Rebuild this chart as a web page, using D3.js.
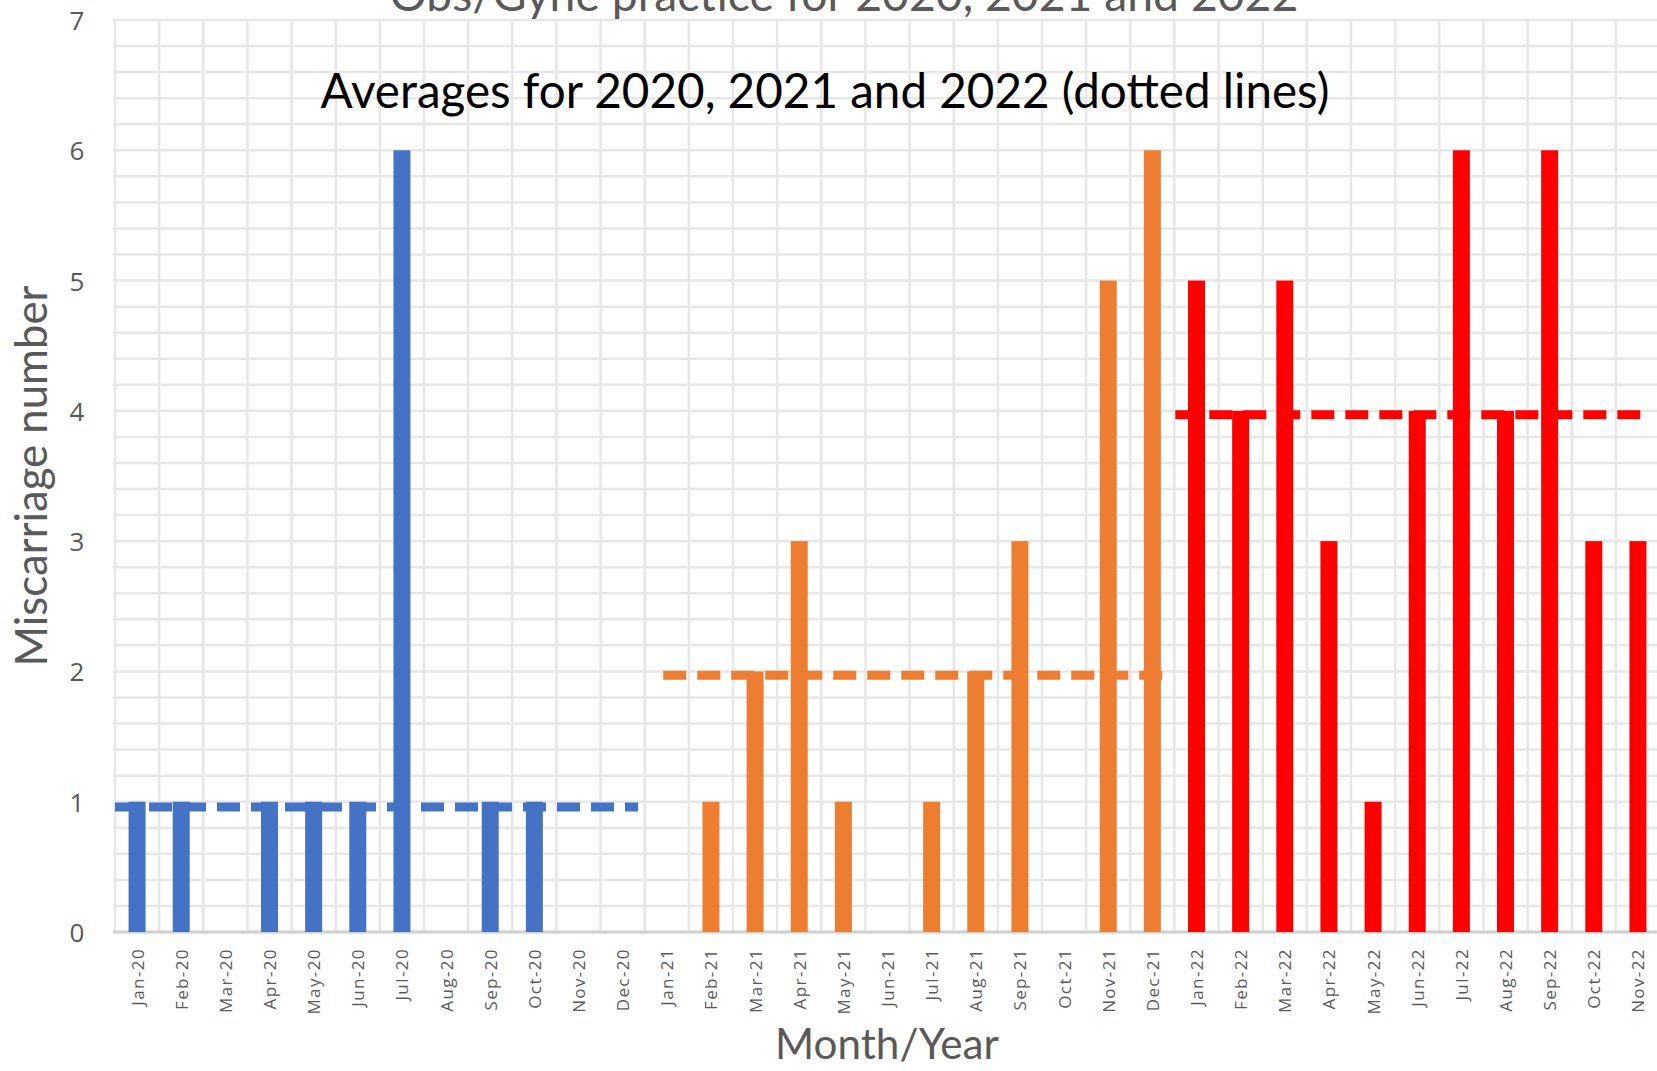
<!DOCTYPE html>
<html>
<head>
<meta charset="utf-8">
<script src="https://cdn.jsdelivr.net/npm/d3@7"></script>
<style>
  html, body { margin: 0; padding: 0; background: #ffffff; overflow: hidden; }
  svg { display: block; }
</style>
</head>
<body>
<svg id="chart" width="1657" height="1071"></svg>
<script>
// ---------- DATA ----------
const months = [
  "Jan-20","Feb-20","Mar-20","Apr-20","May-20","Jun-20","Jul-20","Aug-20","Sep-20","Oct-20","Nov-20","Dec-20",
  "Jan-21","Feb-21","Mar-21","Apr-21","May-21","Jun-21","Jul-21","Aug-21","Sep-21","Oct-21","Nov-21","Dec-21",
  "Jan-22","Feb-22","Mar-22","Apr-22","May-22","Jun-22","Jul-22","Aug-22","Sep-22","Oct-22","Nov-22"
];
const values2020 = [1, 1, 0, 1, 1, 1, 6, 0, 1, 1, 0, 0];
const values2021 = [0, 1, 2, 3, 1, 0, 1, 2, 3, 0, 5, 6];
const values2022 = [5, 4, 5, 3, 1, 4, 6, 4, 6, 3, 3];
const years = ["2020", "2021", "2022"];
const yearAverages = [0.96, 1.97, 3.97];
const averageFrom = ["Jan-20", "Jan-21", "Jan-22"];
const averageTo = ["Dec-20", "Dec-21", "Nov-22"];
const yTicks = [0, 1, 2, 3, 4, 5, 6, 7];
const titleText = "Obs/Gyne practice for 2020, 2021 and 2022";
const noteText = "Averages for 2020, 2021 and 2022 (dotted lines)";
const yTitle = "Miscarriage number";
const xTitle = "Month/Year";
const yearColors = ["#4472C4", "#ED7D31", "#FF0000"];

// ---------- BUILD ----------
const seriesValues = [values2020, values2021, values2022];
const rows = [];
let k = 0;
seriesValues.forEach((vals, yi) => {
  vals.forEach(v => { rows.push({ month: months[k], value: v, year: yi }); k++; });
});

const svg = d3.select("#chart");
const plotLeft = 115, plotRight = 1660, plotTop = 20, plotBottom = 932;

const x = d3.scaleBand().domain(months).range([plotLeft, plotRight])
  .paddingInner(0.615).paddingOuter(0.3075);
const y = d3.scaleLinear().domain([0, 7]).range([plotBottom, plotTop]);
const step = x.step();

// gridlines
const grid = svg.append("g");
const hLines = d3.range(0, 7.0001, 0.2);
grid.selectAll("line.h").data(hLines).enter().append("line")
  .attr("x1", plotLeft - 2).attr("x2", plotRight)
  .attr("y1", d => y(d)).attr("y2", d => y(d))
  .attr("stroke", "#e7e7e7").attr("stroke-width", 2.5);
const vBounds = months.map((m, i) => plotLeft + i * step);
vBounds.push(plotRight);
grid.selectAll("line.v").data(vBounds).enter().append("line")
  .attr("x1", d => d).attr("x2", d => d)
  .attr("y1", plotTop).attr("y2", plotBottom)
  .attr("stroke", "#e7e7e7").attr("stroke-width", 2.5);

// baseline
svg.append("line").attr("x1", plotLeft - 2).attr("x2", plotRight)
  .attr("y1", y(0)).attr("y2", y(0))
  .attr("stroke", "#d0d0d0").attr("stroke-width", 3);

// bars
svg.append("g").selectAll("rect").data(rows).enter().append("rect")
  .attr("x", d => x(d.month))
  .attr("width", x.bandwidth())
  .attr("y", d => y(d.value))
  .attr("height", d => y(0) - y(d.value))
  .attr("fill", d => yearColors[d.year]);

// average dashed lines
const startOffsets = [0, 0.42, 0.02];
const endOffsets = [0.85, 0.86, 0.78];
svg.append("g").selectAll("line").data(years).enter().append("line")
  .attr("x1", (d, i) => plotLeft + (months.indexOf(averageFrom[i]) + startOffsets[i]) * step)
  .attr("x2", (d, i) => plotLeft + (months.indexOf(averageTo[i]) + endOffsets[i]) * step)
  .attr("y1", (d, i) => y(yearAverages[i]))
  .attr("y2", (d, i) => y(yearAverages[i]))
  .attr("stroke", (d, i) => yearColors[i])
  .attr("stroke-width", 9)
  .attr("stroke-dasharray", "23 11");

// y tick labels
svg.append("g").selectAll("text").data(yTicks).enter().append("text")
  .attr("x", 77).attr("y", d => y(d))
  .attr("text-anchor", "middle").attr("dominant-baseline", "central")
  .attr("font-family", "'Open Sans', sans-serif").attr("font-size", 26)
  .attr("fill", "#595959").text(d => d);

// x tick labels
svg.append("g").selectAll("text").data(months).enter().append("text")
  .attr("transform", d => `translate(${x(d) + x.bandwidth() / 2},948) rotate(-90)`)
  .attr("text-anchor", "end").attr("dominant-baseline", "central")
  .attr("font-family", "'Open Sans', sans-serif").attr("font-size", 17)
  .attr("letter-spacing", 1.4)
  .attr("fill", "#595959").text(d => d);

// helper to fit text width
function fit(sel, target) {
  const node = sel.node();
  const w = node.getComputedTextLength();
  const fs = parseFloat(sel.attr("font-size"));
  sel.attr("font-size", fs * target / w);
}

// title (partially cut off at top, as in the source image)
const t = svg.append("text").attr("x", 844).attr("y", 11)
  .attr("text-anchor", "middle").attr("font-family", "Lato, sans-serif")
  .attr("font-size", 40).attr("fill", "#595959").text(titleText);
fit(t, 909);

// annotation
const n = svg.append("text").attr("x", 825).attr("y", 108)
  .attr("text-anchor", "middle").attr("font-family", "Lato, sans-serif")
  .attr("font-size", 40).attr("fill", "#000000").text(noteText);
fit(n, 1009);

// axis titles
const yt = svg.append("text").attr("transform", "translate(47,476) rotate(-90)")
  .attr("text-anchor", "middle").attr("font-family", "Lato, sans-serif")
  .attr("font-size", 36).attr("fill", "#595959").text(yTitle);
fit(yt, 381);

const xt = svg.append("text").attr("x", 887).attr("y", 1059)
  .attr("text-anchor", "middle").attr("font-family", "Lato, sans-serif")
  .attr("font-size", 36).attr("fill", "#595959").text(xTitle);
fit(xt, 224);
</script>
</body>
</html>
